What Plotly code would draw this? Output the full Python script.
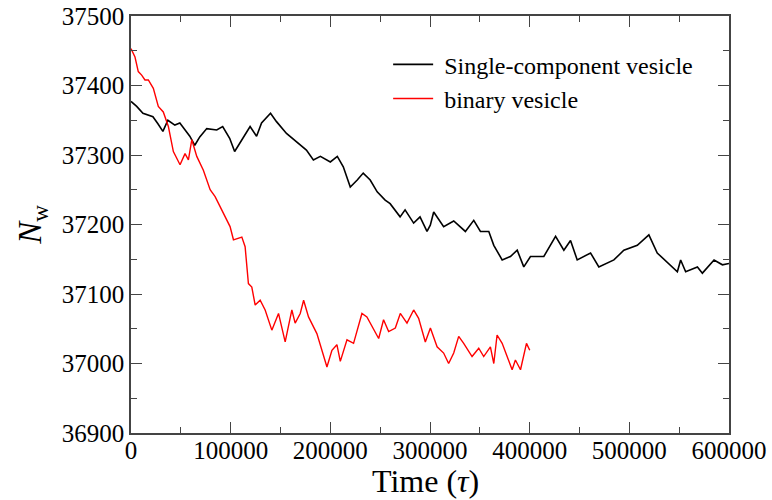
import plotly.graph_objects as go

single_x = [0,5700,12000,19000,22000,27000,32000,37000,44000,49000,
            54000,59000,64000,69000,76000,86000,92000,99000,104000,109000,
            119500,126000,131000,140000,146000,156000,166000,176000,183000,190000,
            200000,207000,213000,220000,227000,233000,240000,247000,255000,260000,
            270000,275000,283600,290000,297000,300300,303700,313700,323800,335500,
            343900,350600,359000,364000,372400,380700,387500,394100,400800,414200,
            426000,434300,441000,447700,461100,469400,484500,494500,508000,519600,
            528000,538100,548200,551500,556500,568300,573300,585000,593400,600000]
single_y = [37377,37370,37360,37357,37355,37345,37334,37350,37343,37346,
            37336,37327,37314,37326,37338,37336,37341,37324,37305,37317,
            37341,37327,37346,37360,37348,37331,37319,37307,37293,37298,
            37290,37298,37283,37254,37264,37274,37264,37247,37235,37230,
            37211,37221,37202,37211,37190,37199,37218,37197,37205,37190,
            37206,37190,37190,37170,37149,37154,37163,37139,37154,37154,
            37183,37163,37177,37149,37159,37139,37149,37163,37170,37185,
            37159,37146,37132,37149,37132,37139,37130,37149,37142,37144]

binary_x = [0,4000,7300,10700,14000,17400,22400,27400,32400,37500,
            42500,49200,54200,57600,61000,66000,72600,79400,84400,89400,
            99400,102800,107800,111200,114500,117800,121200,124600,129600,134600,
            141300,148000,154700,161400,164700,169800,173200,178100,186500,196600,
            201600,206600,210000,216700,223300,231700,236700,241800,248500,253400,
            258500,265200,270200,276900,283600,288600,295300,300400,307100,313700,
            318700,323800,328800,333800,342200,348900,353900,360600,364000,367300,
            372400,377400,382400,385700,390800,396800,400100]
binary_y = [37453,37441,37420,37415,37408,37408,37396,37370,37362,37341,
            37305,37286,37302,37293,37322,37298,37278,37250,37240,37226,
            37197,37178,37180,37182,37168,37115,37110,37084,37091,37077,
            37048,37072,37031,37077,37058,37072,37091,37067,37043,36995,
            37019,37027,37003,37034,37029,37072,37067,37053,37036,37063,
            37046,37051,37072,37058,37077,37065,37031,37051,37024,37015,
            37000,37015,37039,37029,37010,37022,37010,37024,37000,37041,
            37029,37010,36991,37005,36991,37029,37019]

x_ticks = [0, 100000, 200000, 300000, 400000, 500000, 600000]
y_ticks = [36900, 37000, 37100, 37200, 37300, 37400, 37500]

FONT = "Liberation Serif"

fig = go.Figure()
fig.add_trace(go.Scatter(x=single_x, y=single_y, mode="lines",
                         name=" Single-component vesicle",
                         line=dict(color="black", width=1.6)))
fig.add_trace(go.Scatter(x=binary_x, y=binary_y, mode="lines",
                         name=" binary vesicle",
                         line=dict(color="#ff0000", width=1.4)))

axis_common = dict(showline=True, linecolor="#444444", linewidth=1.5, mirror="ticks",
                   ticks="inside", ticklen=11, tickwidth=1.3, tickcolor="#444444",
                   showgrid=False, zeroline=False, automargin=False,
                   tickfont=dict(family=FONT, size=25, color="black"))

fig.update_xaxes(range=[0, 600000], tickvals=x_ticks, ticktext=[str(v) for v in x_ticks],
                 ticklabelstandoff=-6,
                 minor=dict(ticks="inside", ticklen=6, dtick=50000, tickcolor="#444444", tickwidth=1.2),
                 **axis_common)
fig.update_yaxes(range=[36900, 37500], tickvals=y_ticks, ticktext=[str(v) for v in y_ticks],
                 minor=dict(ticks="inside", ticklen=6, dtick=50, tickcolor="#444444", tickwidth=1.2),
                 title=dict(text="<i>N</i><sub>w</sub>", font=dict(family=FONT, size=33, color="black"), standoff=10),
                 **axis_common)

fig.add_annotation(text="Time (<i>\u03c4</i>)", xref="paper", yref="paper",
                   x=0.493, y=-0.115, xanchor="center", yanchor="middle", showarrow=False,
                   font=dict(family=FONT, size=32, color="black"))

fig.update_layout(
    width=772, height=500,
    margin=dict(l=131, r=43, t=16, b=67, autoexpand=False),
    paper_bgcolor="white", plot_bgcolor="white",
    showlegend=True,
    legend=dict(x=0.43, y=0.937, xanchor="left", yanchor="top",
                bgcolor="rgba(0,0,0,0)", font=dict(family=FONT, size=24, color="black"),
                tracegroupgap=0, itemwidth=40),
    font=dict(family=FONT),
)

fig.write_html("out.html")
